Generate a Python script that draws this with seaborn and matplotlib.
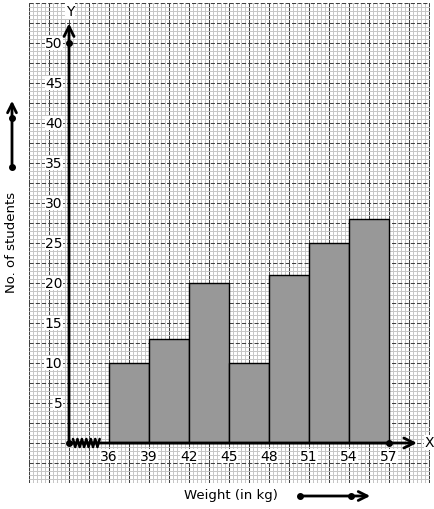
import numpy as np
import matplotlib
matplotlib.use('Agg')
import matplotlib.pyplot as plt
import seaborn as sns

# class limits (kg) and number of students in each class
edges = [36, 39, 42, 45, 48, 51, 54, 57]
counts = [10, 13, 20, 10, 21, 25, 28]
y_labels = [5, 10, 15, 20, 25, 30, 35, 40, 45, 50]

W, H = 434, 510
sns.set_style('white')
plt.rcParams['font.family'] = ['DejaVu Sans']
plt.rcParams['text.color'] = 'black'

fig = plt.figure(figsize=(W / 100, H / 100), dpi=100)
ax = fig.add_axes([29 / W, (H - 484) / H, 401 / W, 480 / H])

# graph paper
ax.set_xlim(30, 60.07)
ax.set_ylim(-5, 55)
ax.set_xticks(np.arange(30, 60.1, 1.5))
ax.set_yticks(np.arange(-5, 55.1, 2.5))
ax.set_xticks(np.arange(30, 60.1, 0.3), minor=True)
ax.set_yticks(np.arange(-5, 55.1, 0.5), minor=True)
ax.grid(True, which='minor', color='#c6c6c6', lw=0.7)
ax.xaxis.grid(True, which='major', color='#404040', lw=0.75, ls='-')
ax.yaxis.grid(True, which='major', color='#404040', lw=0.75, ls=(0, (4, 2)))
ax.tick_params(which='both', length=0, labelbottom=False, labelleft=False)
for s in ax.spines.values():
    s.set_visible(False)
ax.set_axisbelow(True)

# histogram
sns.histplot(x=edges[:-1], weights=counts, bins=edges, color='#989898', alpha=1,
             edgecolor='black', linewidth=1.0, ax=ax, zorder=3)
ax.set_xlabel('')
ax.set_ylabel('')

# axes with arrows
ax.annotate('', xy=(33, 52.8), xytext=(33, 0),
            arrowprops=dict(arrowstyle='->', lw=2.0, color='black', mutation_scale=18), zorder=5)
ax.annotate('', xy=(59.3, 0), xytext=(33, 0),
            arrowprops=dict(arrowstyle='->', lw=2.0, color='black', mutation_scale=18), zorder=5)
ax.plot([33, 33, 57], [0, 50, 0], 'o', color='black', ms=4, zorder=6)
ax.text(33.1, 54, 'Y', ha='center', va='center', fontsize=10,
        bbox=dict(fc='white', ec='none', pad=0.5), zorder=6)
ax.text(60, 0.1, 'X', ha='center', va='center', fontsize=10,
        bbox=dict(fc='white', ec='none', pad=0.5), zorder=6)

# kink on x-axis
zx = np.linspace(33.3, 35.3, 13)
zy = np.where(np.arange(13) % 2 == 0, 0.5, -0.5)
ax.plot(zx, zy, color='black', lw=1.8, zorder=6)

# tick labels
for v in y_labels:
    ax.text(32.5, v, str(v), ha='right', va='center', fontsize=10,
            bbox=dict(fc='white', ec='none', pad=0.2), zorder=4)
for v in edges:
    ax.text(v, -1.6, str(v), ha='center', va='center', fontsize=10,
            bbox=dict(fc='white', ec='none', pad=0.2), zorder=4)


def px(x, y):
    return (x / W, 1 - y / H)


# axis titles with their arrows
fig.text(*px(12, 242), 'No. of students', rotation=90, ha='center', va='center', fontsize=9.5)
fig.text(*px(231, 496), 'Weight (in kg)', ha='center', va='center', fontsize=9.5)
ax.annotate('', xy=px(12, 99), xytext=px(12, 168), xycoords='figure fraction',
            arrowprops=dict(arrowstyle='->', lw=2, color='black', mutation_scale=16),
            annotation_clip=False)
fig.add_artist(plt.Line2D([12 / W, 12 / W], [1 - 168 / H, 1 - 119 / H], ls='', marker='o',
                          ms=4, color='black'))
ax.annotate('', xy=px(373, 497), xytext=px(300, 497), xycoords='figure fraction',
            arrowprops=dict(arrowstyle='->', lw=2, color='black', mutation_scale=16),
            annotation_clip=False)
fig.add_artist(plt.Line2D([300 / W, 351 / W], [1 - 497 / H, 1 - 497 / H], ls='', marker='o',
                          ms=4, color='black'))

fig.savefig('out.png', dpi=100)
